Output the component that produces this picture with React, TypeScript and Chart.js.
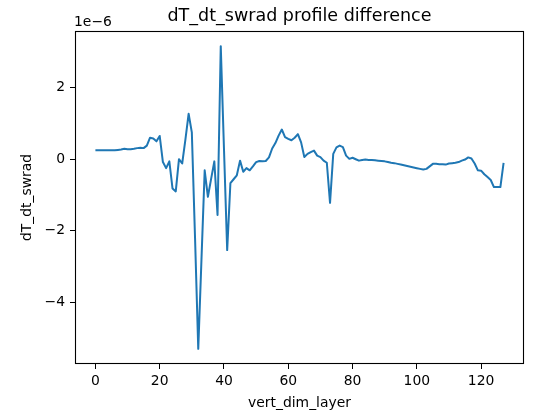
import React, { useEffect, useRef } from "react";
import { Chart, registerables } from "chart.js";

Chart.register(...registerables);

// Layer index (categories)
const layers: number[] = Array.from({ length: 128 }, (_, i) => i);

// dT_dt_swrad difference, in units of 1e-6
const swradDiff: number[] = [
  0.25, 0.25, 0.25, 0.25, 0.25, 0.25, 0.25, 0.26, 0.27, 0.29,
  0.28, 0.28, 0.29, 0.31, 0.32, 0.31, 0.38, 0.6, 0.58, 0.5,
  0.65, -0.08, -0.25, -0.06, -0.82, -0.9, 0.0, -0.12, 0.55, 1.27,
  0.75, -2.2, -5.3, -2.8, -0.31, -1.05, -0.55, -0.06, -1.56, 3.16,
  0.3, -2.54, -0.67, -0.56, -0.45, -0.04, -0.35, -0.25, -0.31, -0.2,
  -0.08, -0.05, -0.06, -0.05, 0.05, 0.3, 0.45, 0.66, 0.83, 0.62,
  0.57, 0.53, 0.6, 0.7, 0.47, 0.06, 0.15, 0.2, 0.24, 0.1,
  0.06, -0.04, -0.1, -1.22, 0.15, 0.33, 0.38, 0.34, 0.1, 0.01,
  0.04, 0.0, -0.04, -0.02, -0.01, -0.02, -0.02, -0.03, -0.04, -0.05,
  -0.06, -0.08, -0.1, -0.11, -0.13, -0.15, -0.17, -0.19, -0.21, -0.23,
  -0.25, -0.27, -0.29, -0.27, -0.2, -0.13, -0.13, -0.14, -0.14, -0.15,
  -0.12, -0.11, -0.1, -0.08, -0.04, -0.01, 0.05, 0.02, -0.12, -0.31,
  -0.32, -0.42, -0.5, -0.58, -0.78, -0.78, -0.78, -0.1,
];

const xTickValues: number[] = [0, 20, 40, 60, 80, 100, 120];
const yTickValues: number[] = [-4, -2, 0, 2];
const yExponentLabel = "1e\u22126";
const titleText = "dT_dt_swrad profile difference";
const xLabel = "vert_dim_layer";
const yLabel = "dT_dt_swrad";

const FAMILY = "'DejaVu Sans', sans-serif";
const fmt = (v: number) => (v < 0 ? "\u2212" + Math.abs(v) : String(v));

export default function App() {
  const ref = useRef<HTMLCanvasElement>(null);

  useEffect(() => {
    const canvas = ref.current;
    if (!canvas) return;

    const xMinD = Math.min(...layers);
    const xMaxD = Math.max(...layers);
    const xPad = 0.05 * (xMaxD - xMinD);
    const yMinD = Math.min(...swradDiff);
    const yMaxD = Math.max(...swradDiff);
    const yPad = 0.05 * (yMaxD - yMinD);

    const spines = {
      id: "spines",
      afterDraw(chart: any) {
        const { ctx, chartArea } = chart;
        const l = Math.round(chartArea.left) + 0.5;
        const t = Math.round(chartArea.top) + 0.5;
        const r = Math.round(chartArea.right) - 0.5;
        const b = Math.round(chartArea.bottom) - 0.5;
        ctx.save();
        ctx.strokeStyle = "#000";
        ctx.lineWidth = 1.1;
        ctx.strokeRect(l, t, r - l, b - t);
        ctx.fillStyle = "#000";
        ctx.font = `13.9px ${FAMILY}`;
        ctx.textAlign = "left";
        ctx.textBaseline = "alphabetic";
        ctx.fillText(yExponentLabel, Math.round(chartArea.left) - 1, 26);
        ctx.restore();
      },
    };

    const tickFont = { family: FAMILY, size: 13.9 };

    const chart = new Chart(canvas, {
      type: "line",
      data: {
        datasets: [
          {
            data: layers.map((x, i) => ({ x, y: swradDiff[i] })),
            borderColor: "#1f77b4",
            borderWidth: 2,
            pointRadius: 0,
            fill: false,
            tension: 0,
            borderJoinStyle: "round",
            borderCapStyle: "butt",
          },
        ],
      },
      options: {
        responsive: false,
        animation: false,
        devicePixelRatio: 1,
        layout: { padding: { left: 0, right: 10, top: 0, bottom: 0 } },
        plugins: {
          legend: { display: false },
          tooltip: { enabled: false },
          title: {
            display: true,
            fullSize: false,
            text: titleText,
            color: "#000",
            font: { family: FAMILY, size: 17.5, weight: "normal" },
            padding: { top: 6.3, bottom: 3.7 },
          },
        },
        scales: {
          x: {
            type: "linear",
            min: xMinD - xPad,
            max: xMaxD + xPad,
            afterBuildTicks: (s: any) => {
              s.ticks = xTickValues.map((v) => ({ value: v }));
            },
            afterFit: (s: any) => {
              s.height = 53;
            },
            ticks: {
              font: tickFont,
              color: "#000",
              padding: 4.5,
              maxRotation: 0,
              autoSkip: false,
              callback: (v: any) => fmt(Number(v)),
            },
            grid: {
              drawOnChartArea: false,
              drawTicks: true,
              tickLength: 5,
              color: "#000",
              lineWidth: 1,
            },
            border: { display: false },
            title: {
              display: true,
              text: xLabel,
              color: "#000",
              font: tickFont,
              padding: { top: 0, bottom: 5 },
            },
          },
          y: {
            type: "linear",
            min: yMinD - yPad,
            max: yMaxD + yPad,
            afterBuildTicks: (s: any) => {
              s.ticks = yTickValues.map((v) => ({ value: v }));
            },
            afterFit: (s: any) => {
              s.width = 75;
            },
            ticks: {
              font: tickFont,
              color: "#000",
              padding: 5,
              autoSkip: false,
              callback: (v: any) => fmt(Number(v)),
            },
            grid: {
              drawOnChartArea: false,
              drawTicks: true,
              tickLength: 5,
              color: "#000",
              lineWidth: 1,
            },
            border: { display: false },
            title: {
              display: true,
              text: yLabel,
              color: "#000",
              font: tickFont,
              padding: { top: 18.9, bottom: 0 },
            },
          },
        },
      },
      plugins: [spines],
    } as any);

    return () => chart.destroy();
  }, []);

  return (
    <div
      style={{
        position: "absolute",
        left: 0,
        top: 0,
        width: 534,
        height: 417,
        background: "#fff",
      }}
    >
      <canvas
        ref={ref}
        width={534}
        height={417}
        style={{ display: "block", width: 534, height: 417 }}
      />
    </div>
  );
}
